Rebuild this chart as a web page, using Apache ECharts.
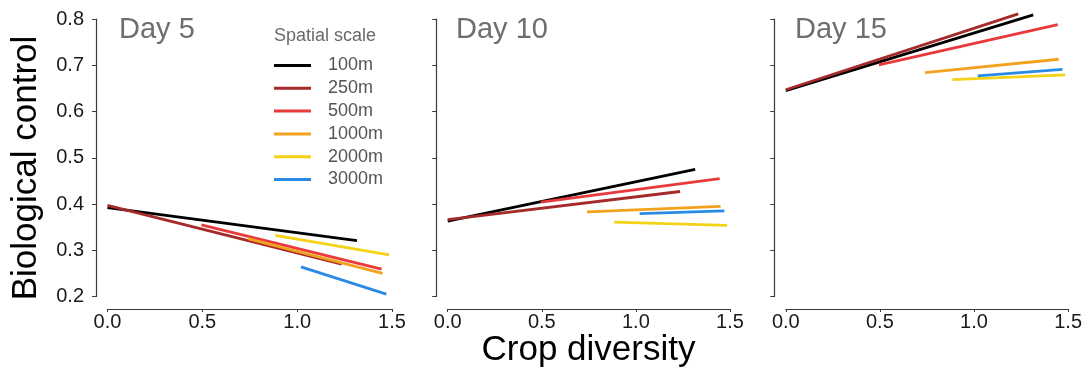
<!DOCTYPE html>
<html>
<head>
<meta charset="utf-8">
<script src="https://cdn.jsdelivr.net/npm/echarts@6/dist/echarts.min.js"></script>
<style>
html,body{margin:0;padding:0;background:#fff;}
#chart{width:1085px;height:370px;}
</style>
</head>
<body>
<div id="chart"></div>
<script>
// ---- data ----
const scales = ['100m', '250m', '500m', '1000m', '2000m', '3000m'];
const days = ['Day 5', 'Day 10', 'Day 15'];
// crop-diversity range covered by each spatial scale (start, end)
const xStart = [0, 0, 0.495, 0.74, 0.885, 1.02];
const xEnd   = [1.315, 1.235, 1.445, 1.45, 1.485, 1.47];
// biological control at the start / end of each fitted line
const day5Start  = [0.392, 0.397, 0.355, 0.325, 0.332, 0.264];
const day5End    = [0.321, 0.270, 0.259, 0.250, 0.290, 0.205];
const day10Start = [0.363, 0.366, 0.404, 0.383, 0.361, 0.379];
const day10End   = [0.475, 0.427, 0.455, 0.395, 0.354, 0.385];
const day15Start = [0.645, 0.647, 0.701, 0.684, 0.669, 0.677];
const day15End   = [0.809, 0.811, 0.788, 0.713, 0.679, 0.691];
const xTickLabels = ['0.0', '0.5', '1.0', '1.5'];
const yTickLabels = ['0.2', '0.3', '0.4', '0.5', '0.6', '0.7', '0.8'];

// ---- styles ----
const colors = ['#000000', '#A52A2A', '#E83A3C', '#F2A21E', '#F4D215', '#2A8BE4'];
const FONT = '"Liberation Sans", Arial, sans-serif';
const axisColor = '#3a3a3a';

const starts = [day5Start, day10Start, day15Start];
const ends = [day5End, day10End, day15End];

const grids = [
  {left: 107.5, top: 19, width: 284.5, height: 277.5},
  {left: 447.7, top: 19, width: 282.3, height: 277.5},
  {left: 785.8, top: 19, width: 284.2, height: 277.5}
];

const xAxes = grids.map((g, i) => ({
  type: 'value', gridIndex: i, min: 0, max: 1.5, interval: 0.5,
  offset: 12.5,
  axisLine: {show: true, onZero: false, lineStyle: {color: axisColor, width: 1.2}},
  axisTick: {show: true, inside: false, length: 3, lineStyle: {color: axisColor, width: 1}},
  splitLine: {show: false},
  axisLabel: {
    margin: 3, fontSize: 20, color: '#1a1a1a', fontFamily: FONT,
    formatter: v => xTickLabels[Math.round(v / 0.5)]
  }
}));

const yAxes = grids.map((g, i) => ({
  type: 'value', gridIndex: i, min: 0.2, max: 0.8, interval: 0.1,
  offset: 11.5,
  axisLine: {show: true, onZero: false, lineStyle: {color: axisColor, width: 1.2}},
  axisTick: {show: true, inside: false, length: 4, lineStyle: {color: axisColor, width: 1}},
  splitLine: {show: false},
  axisLabel: {
    show: i === 0, margin: 12, fontSize: 20, color: '#1a1a1a', fontFamily: FONT,
    formatter: v => yTickLabels[Math.round((v - 0.2) / 0.1)]
  }
}));

const series = [];
days.forEach((d, p) => {
  scales.forEach((s, k) => {
    series.push({
      name: s, type: 'line', xAxisIndex: p, yAxisIndex: p,
      data: [[xStart[k], starts[p][k]], [xEnd[k], ends[p][k]]],
      symbol: 'none', showSymbol: false, clip: false, silent: true,
      lineStyle: {color: colors[k], width: 2.8},
      itemStyle: {color: colors[k]},
      z: 2 + k
    });
  });
});

const dayLeft = [119, 456, 795];
const titles = days.map((d, i) => ({
  text: d, left: dayLeft[i], top: 15.5, padding: 0,
  textStyle: {fontSize: 29, fontWeight: 'normal', color: '#6e6e6e', fontFamily: FONT}
}));
titles.push({
  text: 'Spatial scale', left: 274, top: 27, padding: 0,
  textStyle: {fontSize: 18, fontWeight: 'normal', color: '#6a6a6a', fontFamily: FONT}
});

const option = {
  backgroundColor: '#ffffff',
  animation: false,
  title: titles,
  legend: {
    data: scales, orient: 'vertical', left: 274, top: 56.5, padding: 0,
    icon: 'rect', itemWidth: 37, itemHeight: 3, itemGap: 4.8,
    selectedMode: false,
    textStyle: {fontSize: 18, lineHeight: 18, color: '#555555', fontFamily: FONT, padding: [0, 0, 0, 12]}
  },
  grid: grids,
  xAxis: xAxes,
  yAxis: yAxes,
  series: series,
  graphic: [
    {type: 'text', x: 26.5, y: 168, rotation: Math.PI / 2,
     style: {text: 'Biological control', fontSize: 35, fontFamily: FONT, fill: '#000', align: 'center', verticalAlign: 'middle'}},
    {type: 'text', x: 588.5, y: 350, 
     style: {text: 'Crop diversity', fontSize: 35, fontFamily: FONT, fill: '#000', align: 'center', verticalAlign: 'middle'}}
  ]
};

const chart = echarts.init(document.getElementById('chart'), null, {renderer: 'canvas'});
chart.setOption(option);
</script>
</body>
</html>
